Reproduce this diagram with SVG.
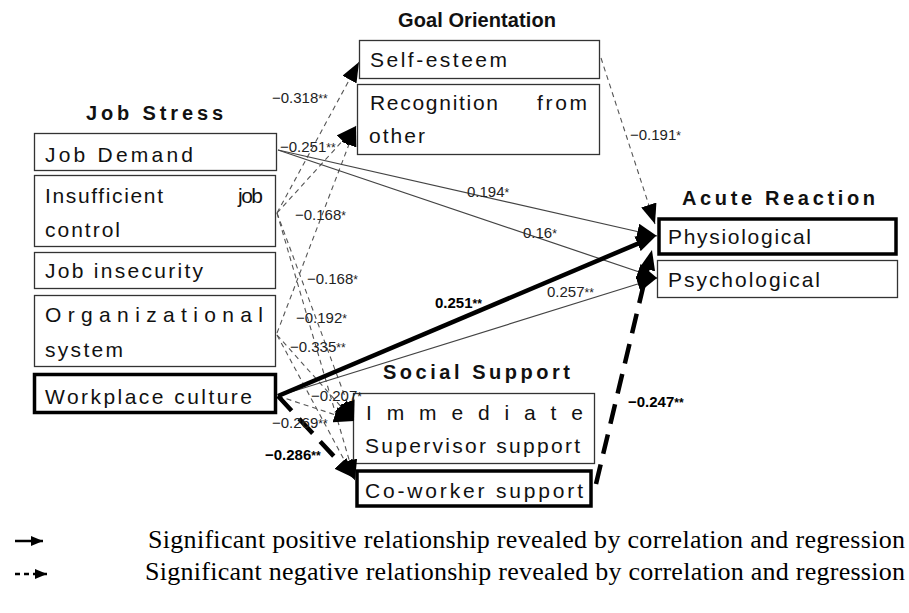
<svg xmlns="http://www.w3.org/2000/svg" width="909" height="613" viewBox="0 0 909 613">
<style>
.box{fill:#fff;stroke:#333;stroke-width:1.3}
.tbox{fill:#fff;stroke:#000;stroke-width:3.5}
.nt{font-family:"Liberation Sans",Arial,sans-serif;font-size:21px;fill:#111}
.ttl{font-family:"Liberation Sans",Arial,sans-serif;font-size:20px;font-weight:bold;fill:#111}
.lb{font-family:"Liberation Sans",Arial,sans-serif;font-size:15px;fill:#222}
.lbb{font-family:"Liberation Sans",Arial,sans-serif;font-size:15px;font-weight:bold;fill:#000}
.st{font-size:12px}
.dash{fill:none;stroke:#555;stroke-width:1.1;stroke-dasharray:5 4}
.sol{fill:none;stroke:#444;stroke-width:1.2}
.thk{fill:none;stroke:#000;stroke-width:4.5}
.thkd{fill:none;stroke:#000;stroke-width:4.5;stroke-dasharray:20 11}
.leg{font-family:"Liberation Serif","Times New Roman",serif;font-size:26px;fill:#000}
</style>
<defs>
<marker id="ah" viewBox="0 0 20 16" markerWidth="20" markerHeight="16" refX="20" refY="8" orient="auto" markerUnits="userSpaceOnUse"><path d="M0,0 L20,8 L0,16 z" fill="#000"/></marker>
<marker id="aht" viewBox="0 0 20 16" markerWidth="20" markerHeight="16" refX="12" refY="8" orient="auto" markerUnits="userSpaceOnUse"><path d="M0,0 L20,8 L0,16 z" fill="#000"/></marker>
<marker id="ahs" viewBox="0 0 12 10" markerWidth="12" markerHeight="10" refX="12" refY="5" orient="auto" markerUnits="userSpaceOnUse"><path d="M0,0 L12,5 L0,10 z" fill="#000"/></marker>
</defs>
<rect width="909" height="613" fill="#fff"/>

<g id="titles">
<text class="ttl" x="398" y="27" textLength="158" lengthAdjust="spacing">Goal Orientation</text>
<text class="ttl" x="86" y="120" textLength="137" lengthAdjust="spacing">Job Stress</text>
<text class="ttl" x="682" y="205" textLength="193" lengthAdjust="spacing">Acute Reaction</text>
<text class="ttl" x="383" y="379" textLength="187" lengthAdjust="spacing">Social Support</text>
</g>

<g id="self-esteem"><rect class="box" x="359.5" y="40.5" width="240" height="38"/><text class="nt" x="370" y="67" textLength="137" lengthAdjust="spacing">Self-esteem</text></g>
<g id="recognition"><rect class="box" x="357.5" y="84.5" width="242" height="70"/><text class="nt" x="370" y="110" textLength="128" lengthAdjust="spacing">Recognition</text><text class="nt" x="537" y="110" textLength="50" lengthAdjust="spacing">from</text><text class="nt" x="369" y="143" textLength="56" lengthAdjust="spacing">other</text></g>

<g id="job-demand"><rect class="box" x="34.5" y="133.5" width="242" height="37"/><text class="nt" x="45" y="162" textLength="148" lengthAdjust="spacing">Job Demand</text></g>
<g id="insufficient"><rect class="box" x="34.5" y="175.5" width="241" height="71"/><text class="nt" x="45" y="203" textLength="118" lengthAdjust="spacing">Insufficient</text><text class="nt" x="238" y="203" textLength="25" lengthAdjust="spacing">job</text><text class="nt" x="45" y="237" textLength="75" lengthAdjust="spacing">control</text></g>
<g id="job-insecurity"><rect class="box" x="34.5" y="252.5" width="241" height="36"/><text class="nt" x="45" y="278" textLength="158" lengthAdjust="spacing">Job insecurity</text></g>
<g id="organizational"><rect class="box" x="34.5" y="295.5" width="241" height="71"/><text class="nt" x="45" y="322" textLength="218" lengthAdjust="spacing">Organizational</text><text class="nt" x="45" y="357" textLength="78" lengthAdjust="spacing">system</text></g>
<g id="workplace-culture"><rect class="tbox" x="34.5" y="374.5" width="241" height="38"/><text class="nt" x="45" y="404" textLength="207" lengthAdjust="spacing">Workplace culture</text></g>

<g id="physiological"><rect class="tbox" x="659" y="219" width="237" height="35"/><text class="nt" x="668" y="244" textLength="143" lengthAdjust="spacing">Physiological</text></g>
<g id="psychological"><rect class="box" x="657.5" y="260.5" width="240" height="37"/><text class="nt" x="668" y="287" textLength="152" lengthAdjust="spacing">Psychological</text></g>

<g id="immediate"><rect class="box" x="353.5" y="393.5" width="241" height="70"/><text class="nt" x="366" y="420" textLength="217" lengthAdjust="spacing">Immediate</text><text class="nt" x="365" y="453" textLength="215" lengthAdjust="spacing">Supervisor support</text></g>
<g id="co-worker"><rect class="tbox" x="357" y="471" width="234" height="35"/><text class="nt" x="365" y="498" textLength="218" lengthAdjust="spacing">Co-worker support</text></g>

<g id="connectors">
<path class="dash" d="M277,213 L359,62" marker-end="url(#ah)"/>
<path class="dash" d="M277,213 L356,126" marker-end="url(#ah)"/>
<path class="dash" d="M277,333 L356,126" marker-end="url(#ah)"/>
<path class="dash" d="M277,213 L354,421" marker-end="url(#ah)"/>
<path class="dash" d="M277,213 L355,480" marker-end="url(#ah)"/>
<path class="dash" d="M277,335 L354,421" marker-end="url(#ah)"/>
<path class="dash" d="M277,335 L355,480" marker-end="url(#ah)"/>
<path class="dash" d="M278,396 L354,421" marker-end="url(#ah)"/>
<path class="dash" d="M601,58 L655,224" marker-end="url(#ah)"/>
<path class="sol" d="M278,150 L657,236" marker-end="url(#ah)"/>
<path class="sol" d="M278,150 L657,278" marker-end="url(#ah)"/>
<path class="sol" d="M278,396 L657,278" marker-end="url(#ah)"/>
<path class="thk" d="M278,396 L648.6,239.1" marker-end="url(#aht)"/>
<path class="thkd" d="M278,396 L348.6,472.1" marker-end="url(#aht)"/>
<path class="thkd" d="M596,484 L650.1,257.8" marker-end="url(#aht)"/>

<text class="lb" x="272" y="103">−0.318<tspan class="st">**</tspan></text>
<text class="lb" x="280" y="152">−0.251<tspan class="st">**</tspan></text>
<text class="lb" x="467" y="197">0.194<tspan class="st">*</tspan></text>
<text class="lb" x="523" y="238">0.16<tspan class="st">*</tspan></text>
<text class="lb" x="630" y="140">−0.191<tspan class="st">*</tspan></text>
<text class="lb" x="295" y="220">−0.168<tspan class="st">*</tspan></text>
<text class="lb" x="307" y="284">−0.168<tspan class="st">*</tspan></text>
<text class="lb" x="296" y="323">−0.192<tspan class="st">*</tspan></text>
<text class="lb" x="290" y="352">−0.335<tspan class="st">**</tspan></text>
<text class="lbb" x="435" y="308">0.251<tspan class="st">**</tspan></text>
<text class="lb" x="547" y="297">0.257<tspan class="st">**</tspan></text>
<text class="lb" x="311" y="401">−0.207<tspan class="st">*</tspan></text>
<text class="lb" x="272" y="428">−0.269<tspan class="st">**</tspan></text>
<text class="lbb" x="265" y="460">−0.286<tspan class="st">**</tspan></text>
<text class="lbb" x="628" y="407">−0.247<tspan class="st">**</tspan></text>
</g>

<g id="legend">
<path d="M15,541 L43,541" stroke="#000" stroke-width="2.5" fill="none" marker-end="url(#ahs)"/>
<path d="M15,574 L33,574" stroke="#000" stroke-width="2.5" fill="none" stroke-dasharray="5 4"/>
<path d="M33,574 L47,574" stroke="#000" stroke-width="2.5" fill="none" marker-end="url(#ahs)"/>
<text class="leg" x="148" y="548" textLength="757" lengthAdjust="spacing">Significant positive relationship revealed by correlation and regression</text>
<text class="leg" x="145" y="580" textLength="760" lengthAdjust="spacing">Significant negative relationship revealed by correlation and regression</text>
</g>
</svg>
